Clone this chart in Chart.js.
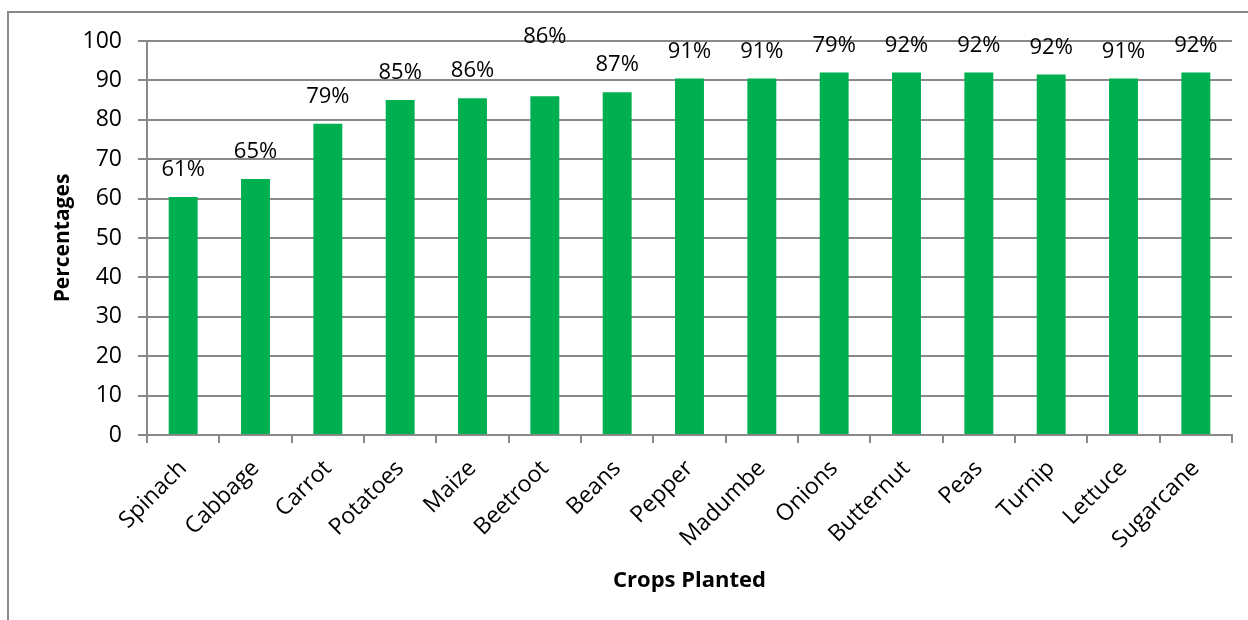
<!DOCTYPE html>
<html>
<head>
<meta charset="utf-8">
<script src="https://cdn.jsdelivr.net/npm/chart.js@4.4.1/dist/chart.umd.min.js"></script>
<style>
html, body { margin: 0; padding: 0; background: #fff; }
#moldura { position: absolute; left: 7px; top: 11px; width: 1241px; height: 609px; border-top: 2px solid #8a8a8a; border-left: 2px solid #8a8a8a; box-sizing: border-box; }
#caixa { position: absolute; left: 0; top: 0; width: 1248px; height: 620px; }
</style>
</head>
<body>
<div id="moldura"></div>
<div id="caixa"><canvas id="graficoCulturas" width="1248" height="620"></canvas></div>
<script>
const culturas = ["Spinach", "Cabbage", "Carrot", "Potatoes", "Maize", "Beetroot", "Beans", "Pepper",
    "Madumbe", "Onions", "Butternut", "Peas", "Turnip", "Lettuce", "Sugarcane"];
const percentagens = [60.4, 65, 79, 85, 85.5, 86, 87, 90.5, 90.5, 92, 92, 92, 91.5, 90.5, 92];
const rotulos = ["61%", "65%", "79%", "85%", "86%", "86%", "87%", "91%", "91%", "79%", "92%", "92%", "92%", "91%", "92%"];
const yMin = 0, yMax = 100, yPasso = 10;

const cinza = '#898989';
Chart.defaults.font.family = '"Open Sans", sans-serif';
Chart.defaults.color = '#000000';

// rotulos em cima das barras (o de Beetroot fica mais alto no original)
const rotulosPlugin = {
    id: 'rotulos',
    afterDatasetsDraw(chart, args, opts) {
        const ctx = chart.ctx;
        const meta = chart.getDatasetMeta(0);
        ctx.save();
        ctx.font = '22px "Open Sans"';
        ctx.fillStyle = '#000';
        ctx.textAlign = 'center';
        ctx.textBaseline = 'middle';
        meta.data.forEach((barra, i) => {
            let sobe = opts.sobe;
            if (culturas[i] === 'Beetroot') sobe = opts.sobeBeetroot;
            ctx.fillText(rotulos[i], barra.x, barra.y - sobe);
        });
        ctx.restore();
    }
};

const ctx = document.getElementById('graficoCulturas').getContext('2d');
const grafico = new Chart(ctx, {
    type: 'bar',
    data: {
        labels: culturas,
        datasets: [{
            data: percentagens,
            backgroundColor: '#00B050',
            barPercentage: 0.4,
            categoryPercentage: 1
        }]
    },
    options: {
        responsive: false,
        animation: false,
        layout: { padding: { top: 41, right: 16, left: 0, bottom: 0 } },
        scales: {
            x: {
                grid: { drawOnChartArea: false, tickLength: 8, color: cinza, lineWidth: 2, offset: true },
                border: { color: cinza, width: 2 },
                ticks: {
                    font: { size: 23 },
                    maxRotation: 45,
                    minRotation: 45,
                    padding: 12,
                    autoSkip: false
                },
                title: {
                    display: true,
                    text: 'Crops Planted',
                    font: { size: 22, weight: 'bold' },
                    padding: { top: 0, bottom: 26 }
                },
                afterFit: (escala) => { escala.height = 620 - 435; }
            },
            y: {
                min: yMin,
                max: yMax,
                ticks: { stepSize: yPasso, font: { size: 23 }, padding: 16 },
                grid: { color: cinza, lineWidth: 2, tickLength: 9 },
                border: { color: cinza, width: 2 },
                title: {
                    display: true,
                    text: 'Percentages',
                    font: { size: 21, weight: 'bold' },
                    padding: { top: 50, bottom: 0 }
                },
                afterFit: (escala) => { escala.width = 147; }
            }
        },
        plugins: {
            legend: { display: false },
            tooltip: { enabled: false },
            rotulos: { sobe: 27, sobeBeetroot: 59 }
        }
    },
    plugins: [rotulosPlugin]
});
</script>
</body>
</html>
